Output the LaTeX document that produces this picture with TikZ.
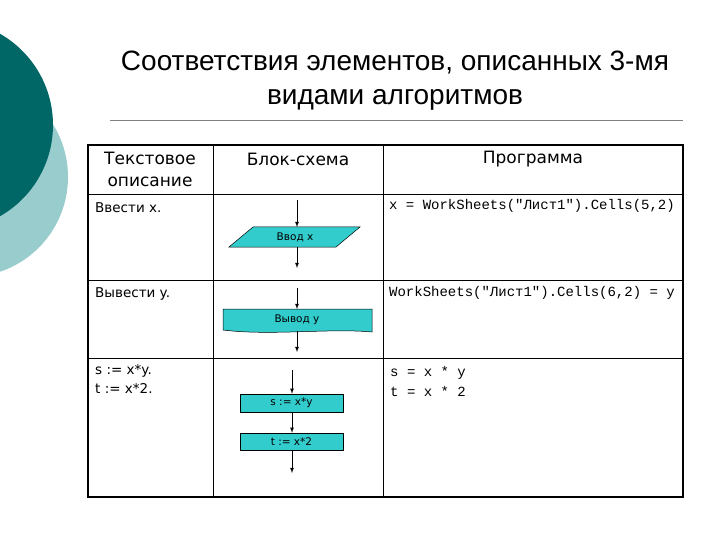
\documentclass[tikz,border=0pt]{standalone}
\usepackage{fontspec}
\setmainfont{Liberation Sans}
\setmonofont{Liberation Mono}
\newfontfamily\vfont{DejaVu Sans}
\definecolor{fcfill}{RGB}{51,204,204}
\definecolor{darkc}{RGB}{0,102,102}
\definecolor{lightc}{RGB}{153,204,204}
\begin{document}
\begin{tikzpicture}[x=1pt,y=-1pt,
  cell/.style={anchor=north west,inner sep=0pt,font=\vfont\fontsize{13.5}{19}\selectfont},
  hdr/.style={font=\vfont\fontsize{17}{22}\selectfont,align=center},
  code/.style={anchor=north west,inner sep=0pt,font=\ttfamily\fontsize{14}{20}\selectfont},
  fc/.style={draw=black,fill=fcfill,line width=0.5pt,inner sep=0pt,font=\vfont\fontsize{10.5}{12}\selectfont},
  arr/.style={-latex,line width=0.8pt}]
\useasboundingbox (0,0) rectangle (720,540);
\fill[white] (0,0) rectangle (720,540);
\fill[lightc] (-32,177) circle (100);
\fill[darkc] (-52,125) circle (105);
\node[font=\fontsize{28}{34}\selectfont,align=center] (title) at (395,81) {Соответствия элементов, описанных 3-мя\\видами алгоритмов};
\draw[gray,line width=0.6pt] (110,120) -- (683,120);
% table
\draw[line width=1.5pt] (88,145) rectangle (683,497);
\draw[line width=0.6pt] (88,194) -- (683,194) (88,280) -- (683,280) (88,358) -- (683,358)
  (213,145) -- (213,497) (383,145) -- (383,497);
\node[hdr] (h1) at (150,169) {Текстовое\\описание};
\node[hdr] (h2) at (298,159) {Блок-схема};
\node[hdr] (h3) at (533,159) {Программа};
\node[cell] (t1) at (95,202) {Ввести x.};
\node[cell] (t2) at (95,287) {Вывести y.};
\node[cell,align=left] (t3) at (95,364) {s := x*y.\\t := x*2.};
\node[code,anchor=north east] (c1) at (675,199) {x = WorkSheets("Лист1").Cells(5,2)};
\node[code,anchor=north east] (c2) at (675,286) {WorkSheets("Лист1").Cells(6,2) = y};
\node[code,align=left] (c3) at (390,366) {s = x * y\\t = x * 2};
% flowchart
\coordinate (a1) at (297,200);
\draw[fc] (253,227) -- (360,227) -- (336,247) -- (229,247) -- cycle;
\node[inner sep=0pt,font=\vfont\fontsize{10.5}{12}\selectfont] (p1) at (295,237) {Ввод x};
\coordinate (p1t) at (297,227); \coordinate (p1b) at (297,247);
\coordinate (e1) at (297,268);
\draw[arr] (a1) -- (p1t);
\draw[arr] (p1b) -- (e1);
\coordinate (a2) at (297,288);
\draw[fc] (223,309) -- (372,309) -- (372,332) .. controls (330,328) and (270,336) .. (223,330) -- cycle;
\node[inner sep=0pt,font=\vfont\fontsize{10.5}{12}\selectfont] (p2) at (297,320) {Вывод y};
\coordinate (p2t) at (297,309); \coordinate (p2b) at (297,331);
\coordinate (e2) at (297,352);
\draw[arr] (a2) -- (p2t);
\draw[arr] (p2b) -- (e2);
\coordinate (a3) at (292,370);
\node[fc,minimum width=103pt,minimum height=18pt] (r1) at (291.5,403) {s := x*y};
\node[fc,minimum width=103pt,minimum height=17pt] (r2) at (291.5,441.5) {t := x*2};
\coordinate (e3) at (292,473);
\draw[arr] (a3) -- (r1.north -| a3);
\draw[arr] (r1.south -| a3) -- (r2.north -| a3);
\draw[arr] (r2.south -| a3) -- (e3);
\end{tikzpicture}
\end{document}
